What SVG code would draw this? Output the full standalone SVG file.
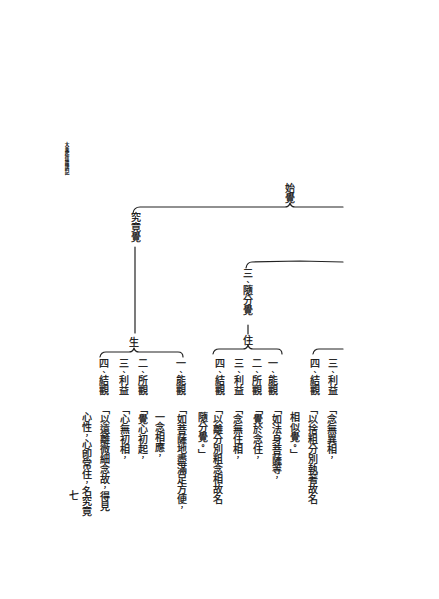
<svg xmlns="http://www.w3.org/2000/svg" width="439" height="599" viewBox="0 0 439 599">
<style>
.t{font-family:"Noto Sans CJK TC","Noto Sans CJK SC",sans-serif;font-size:10px;writing-mode:vertical-rl;fill:#111;stroke:#111;stroke-width:0.25;}
.p{font-size:7px;}
.h{font-size:4.6px;font-weight:bold;stroke-width:0.1;}
.c{fill:none;stroke:#222;stroke-width:1.2;stroke-linecap:round;stroke-linejoin:round;}
</style>
<rect width="439" height="599" fill="#fff"/>
<g id="connectors">
<path class="c" d="M133,213 Q134,207 140,207 L285,207 Q289,207 290,203 Q291,207 295,207 L343,207"/>
<path class="c" d="M135,247 L135,333"/>
<path class="c" d="M100,357 Q101,352 106,352 L129,352 Q133,352 134,348 Q135,352 139,352 L178,352 Q183,352 183,357"/>
<path class="c" d="M246,268 Q247,262 252,262 L300,261 L343,262"/>
<path class="c" d="M248,325 L248,334"/>
<path class="c" d="M213,354 Q214,349 219,349 L243,349 Q247,349 248,345 Q249,349 253,349 L277,349 Q282,349 282,354"/>
<path class="c" d="M313,354 Q314,349 319,349 L343,349"/>
</g>
<g id="header"><text class="t h" x="67" y="142">大乘起信論講記</text></g>
<g id="pageno"><text class="t" x="74" y="490">七</text></g>
<g id="shijue"><text class="t" x="290" y="183">始覺</text></g>
<g id="jiujingjue"><text class="t" x="136" y="212">究竟覺</text></g>
<g id="sheng"><text class="t" x="134" y="337">生</text></g>
<g id="suifenjue"><text class="t" x="248" y="268">三<tspan class="p">、</tspan>隨分覺</text></g>
<g id="zhu"><text class="t" x="248" y="335">住</text></g>
<g id="sheng-items">
<text class="t" x="181" y="358">一<tspan class="p">、</tspan>能觀</text>
<text class="t" x="143" y="358">二<tspan class="p">、</tspan>所觀</text>
<text class="t" x="124" y="358">三<tspan class="p">、</tspan>利益</text>
<text class="t" x="104" y="358">四<tspan class="p">、</tspan>結觀</text>
</g>
<g id="zhu-items">
<text class="t" x="273" y="358">一<tspan class="p">、</tspan>能觀</text>
<text class="t" x="257" y="358">二<tspan class="p">、</tspan>所觀</text>
<text class="t" x="239" y="358">三<tspan class="p">、</tspan>利益</text>
<text class="t" x="220" y="358">四<tspan class="p">、</tspan>結觀</text>
</g>
<g id="yi-items">
<text class="t" x="333" y="358">三<tspan class="p">、</tspan>利益</text>
<text class="t" x="315" y="358">四<tspan class="p">、</tspan>結觀</text>
</g>
<g id="yi-text">
<text class="t" x="332" y="404">「念無異相<tspan class="p">，</tspan></text>
<text class="t" x="313" y="404">「以捨粗分別執著故名</text>
<text class="t" x="295" y="412">相似覺<tspan class="p">。</tspan>」</text>
</g>
<g id="zhu-text">
<text class="t" x="277" y="404">「如法身菩薩等<tspan class="p">，</tspan></text>
<text class="t" x="258" y="404">「覺於念住<tspan class="p">，</tspan></text>
<text class="t" x="238" y="404">「念無住相<tspan class="p">，</tspan></text>
<text class="t" x="218" y="404">「以離分別粗念相故名</text>
<text class="t" x="203" y="412">隨分覺<tspan class="p">。</tspan>」</text>
</g>
<g id="sheng-text">
<text class="t" x="182" y="404">「如菩薩地盡滿足方便<tspan class="p">，</tspan></text>
<text class="t" x="160" y="412">一念相應<tspan class="p">，</tspan></text>
<text class="t" x="143" y="404">「覺心初起<tspan class="p">，</tspan></text>
<text class="t" x="125" y="404">「心無初相<tspan class="p">，</tspan></text>
<text class="t" x="105" y="404">「以遠離微細念故<tspan class="p">，</tspan>得見</text>
<text class="t" x="87" y="412">心性<tspan class="p">，</tspan>心卽常住<tspan class="p">，</tspan>名究竟</text>
</g>
</svg>
